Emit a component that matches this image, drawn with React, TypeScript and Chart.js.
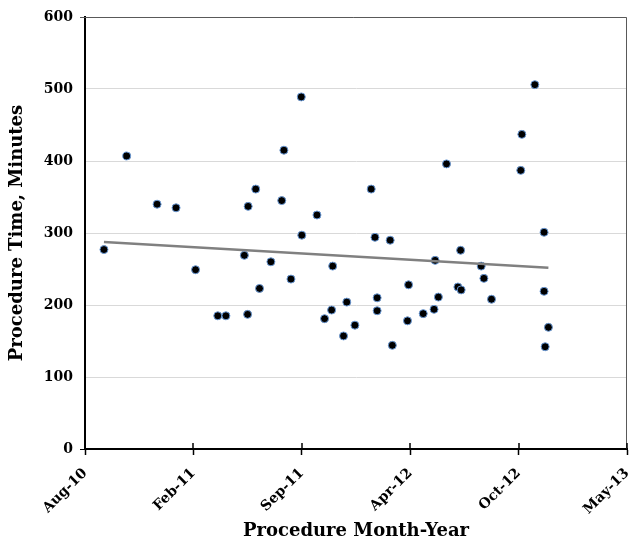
import React, { useEffect, useRef } from 'react';
import { Chart, registerables } from 'chart.js';

Chart.register(...registerables);

// x: days after 10-Aug-2010; axis ticks every 200 days
const xTickLabels = ['Aug-10', 'Feb-11', 'Sep-11', 'Apr-12', 'Oct-12', 'May-13'];
const xTickStepDays = 200;

const procedureDay = [
  35, 77, 133, 168, 204, 245, 260, 294, 300, 301,
  315, 322, 343, 363, 367, 380, 399, 400, 428, 442,
  455, 457, 477, 483, 498, 528, 535, 539, 539, 563,
  567, 597, 595, 624, 644, 646, 652, 667, 688, 694,
  693, 731, 736, 750, 806, 804, 830, 847, 847, 849,
  855,
];
const procedureMinutes = [
  277, 407, 340, 335, 249, 185, 185, 269, 187, 337,
  361, 223, 260, 345, 415, 236, 489, 297, 325, 181,
  193, 254, 157, 204, 172, 361, 294, 210, 192, 290,
  144, 228, 178, 188, 194, 262, 211, 396, 225, 221,
  276, 254, 237, 208, 437, 387, 506, 301, 219, 142,
  169,
];

const yTicks = { min: 0, max: 600, step: 100 };

const FONT = 'DejaVu Serif';

const framePlugin = {
  id: 'frame',
  afterDraw(chart: any) {
    const { ctx, chartArea, scales } = chart;
    const { left, right, top, bottom } = chartArea;
    ctx.save();
    ctx.strokeStyle = '#595959';
    ctx.lineWidth = 1;
    ctx.beginPath();
    ctx.moveTo(left - 5, top + 0.5);
    ctx.lineTo(right - 0.5, top + 0.5);
    ctx.lineTo(right - 0.5, bottom);
    ctx.stroke();
    ctx.strokeStyle = '#000';
    ctx.lineWidth = 1.5;
    ctx.beginPath();
    scales.x.ticks.forEach((t: any) => {
      const px = Math.round(scales.x.getPixelForValue(t.value));
      ctx.moveTo(px, bottom - 6);
      ctx.lineTo(px, bottom);
    });
    ctx.stroke();
    ctx.restore();
  },
};

export default function App() {
  const ref = useRef<HTMLCanvasElement | null>(null);

  useEffect(() => {
    if (!ref.current) return;
    const points = procedureDay.map((d, i) => ({ x: d, y: procedureMinutes[i] }));
    // least-squares linear trendline
    const n = points.length;
    const mx = procedureDay.reduce((a, b) => a + b, 0) / n;
    const my = procedureMinutes.reduce((a, b) => a + b, 0) / n;
    let sxy = 0, sxx = 0;
    points.forEach((p) => { sxy += (p.x - mx) * (p.y - my); sxx += (p.x - mx) * (p.x - mx); });
    const slope = sxy / sxx;
    const icpt = my - slope * mx;
    const x0 = Math.min(...procedureDay);
    const x1 = Math.max(...procedureDay);
    const trend = [
      { x: x0, y: icpt + slope * x0 },
      { x: x1, y: icpt + slope * x1 },
    ];

    const chart = new Chart(ref.current, {
      type: 'scatter',
      data: {
        datasets: [
          {
            label: 'Trend',
            data: trend,
            showLine: true,
            borderColor: '#808080',
            borderWidth: 2.5,
            pointRadius: 0,
            order: 0,
          } as any,
          {
            label: 'Procedure Time',
            data: points,
            backgroundColor: '#000',
            borderColor: '#6b9ad6',
            borderWidth: 1,
            pointRadius: 4,
            order: 1,
          },
        ],
      },
      options: {
        animation: false,
        responsive: true,
        maintainAspectRatio: false,
        layout: { autoPadding: false, padding: { top: 17, right: 3, left: 0, bottom: 0 } } as any,
        plugins: { legend: { display: false }, tooltip: { enabled: false } },
        scales: {
          x: {
            type: 'linear',
            min: 0,
            max: xTickStepDays * (xTickLabels.length - 1),
            grid: { drawOnChartArea: false, drawTicks: true, tickLength: 6, tickColor: '#000', tickWidth: 1.5 } as any,
            border: { color: '#000', width: 2 },
            ticks: {
              stepSize: xTickStepDays,
              minRotation: 45,
              maxRotation: 45,
              padding: 10,
              color: '#000',
              font: { family: FONT, size: 14, weight: 'bold' },
              callback: (v: any) => xTickLabels[Math.round(Number(v) / xTickStepDays)] ?? '',
            },
            title: {
              display: true,
              text: 'Procedure Month-Year',
              color: '#000',
              font: { family: FONT, size: 18, weight: 'bold' },
              padding: { top: 0, bottom: 0 },
            },
            afterFit: (s: any) => { s.height = 93; s.paddingLeft = 0; s.paddingRight = 0; },
          },
          y: {
            min: yTicks.min,
            max: yTicks.max,
            grid: {
              color: '#d9d9d9',
              lineWidth: 1,
              tickLength: 5,
              tickColor: (c: any) => (c.tick && c.tick.value === 0 ? '#000' : 'rgba(0,0,0,0)'),
            } as any,
            border: { color: '#000', width: 2 },
            ticks: {
              stepSize: yTicks.step,
              padding: 7,
              color: '#000',
              font: { family: FONT, size: 14, weight: 'bold' },
            },
            title: {
              display: true,
              text: 'Procedure Time, Minutes',
              color: '#000',
              font: { family: FONT, size: 18, weight: 'bold' },
              padding: { top: 7, bottom: 0 },
            },
            afterFit: (s: any) => { s.width = 85; },
          },
        },
      },
      plugins: [framePlugin],
    });
    return () => chart.destroy();
  }, []);

  return (
    <div style={{ position: 'fixed', left: 0, top: 0, width: 630, height: 542, background: '#fff' }}>
      <canvas ref={ref} />
    </div>
  );
}
